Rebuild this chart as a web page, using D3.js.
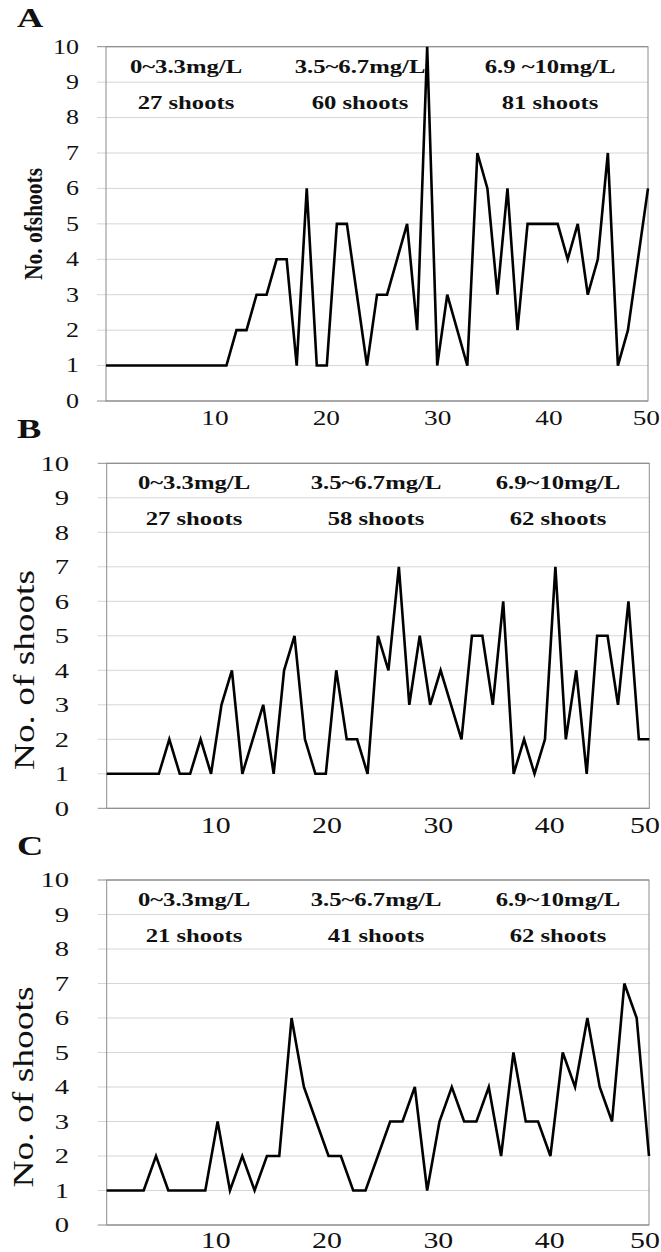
<!DOCTYPE html>
<html><head><meta charset="utf-8">
<script src="https://cdn.jsdelivr.net/npm/d3@7"></script>
<style>body{margin:0;background:#fff}svg{display:block}</style>
</head><body>
<script>
// ---------- data ----------
const yTicks = [0,1,2,3,4,5,6,7,8,9,10];
const xTickLabels = [10,20,30,40,50];
const panelLetters = ["A","B","C"];
const yAxisTitles = ["No. ofshoots","No. of shoots","No. of shoots"];
const rangeLabelsA = ["0~3.3mg/L","3.5~6.7mg/L","6.9 ~10mg/L"];
const rangeLabelsB = ["0~3.3mg/L","3.5~6.7mg/L","6.9~10mg/L"];
const rangeLabelsC = ["0~3.3mg/L","3.5~6.7mg/L","6.9~10mg/L"];
const shootsA = [27,60,81];
const shootsB = [27,58,62];
const shootsC = [21,41,62];
const seriesA = [1,1,1,1,1,1,1,1,1,1,1,1,1,2,2,3,3,4,4,1,6,1,1,5,5,3,1,3,3,4,5,2,10,1,3,2,1,7,6,3,6,2,5,5,5,5,4,5,3,4,7,1,2,4,6];
const seriesB = [1,1,1,1,1,1,2,1,1,2,1,3,4,1,2,3,1,4,5,2,1,1,4,2,2,1,5,4,7,3,5,3,4,3,2,5,5,3,6,1,2,1,2,7,2,4,1,5,5,3,6,2,2];
const seriesC = [1,1,1,1,2,1,1,1,1,3,1,2,1,2,2,6,4,3,2,2,1,1,2,3,3,4,1,3,4,3,3,4,2,5,3,3,2,5,4,6,4,3,7,6,2];

// ---------- layout ----------
const W = 661, H = 1252, SX = 1.3;
const FONT = "'Liberation Serif','Times New Roman',serif";
const layout = [
  {top:46.7, bottom:401, left:106, right:648, headerX:[186,360,550], letterY:27,
   tickRight:79, tickFont:20, titleX:42, titleY:224, titleLen:112, titleFont:26, titleBold:true, xlabY:425},
  {top:463.3, bottom:808.3, left:106.7, right:649.3, headerX:[194,376,558], letterY:438,
   tickRight:69, tickFont:22, titleX:34, titleY:670, titleLen:200, titleFont:30, titleBold:false, xlabY:833},
  {top:880, bottom:1225, left:106.7, right:649, headerX:[194,376,558], letterY:855,
   tickRight:69, tickFont:22, titleX:33, titleY:1087, titleLen:201, titleFont:30, titleBold:false, xlabY:1248}
];
const panels = [
  {series:seriesA, ranges:rangeLabelsA, shoots:shootsA},
  {series:seriesB, ranges:rangeLabelsB, shoots:shootsB},
  {series:seriesC, ranges:rangeLabelsC, shoots:shootsC}
];

const svg = d3.select("body").append("svg").attr("width", W).attr("height", H)
  .style("font-family", FONT);
svg.append("rect").attr("width", W).attr("height", H).attr("fill", "#fff");

function stretchedText(g, x, y, txt, opts) {
  const t = g.append("text")
    .attr("transform", `translate(${x},${y}) scale(${SX},1)`)
    .attr("text-anchor", opts.anchor || "middle")
    .attr("font-size", opts.size)
    .attr("font-weight", opts.bold ? "bold" : "normal")
    .attr("fill", "#111")
    .text(txt);
  if (opts.dominant) t.attr("dominant-baseline", opts.dominant);
  return t;
}

panels.forEach((p, k) => {
  const L = layout[k];
  const g = svg.append("g");
  const x = d3.scaleLinear().domain([0, p.series.length - 1]).range([L.left, L.right]);
  const y = d3.scaleLinear().domain([0, 10]).range([L.bottom, L.top]);
  const xl = d3.scaleLinear().domain([10, 40]).range([L.left + 109, L.left + 443]);

  // gridlines with outward ticks
  g.append("g").selectAll("line").data(yTicks).join("line")
    .attr("x1", L.left - 9).attr("x2", L.right)
    .attr("y1", d => y(d)).attr("y2", d => y(d))
    .attr("stroke", d => (d === 0 || d === 10) ? "#8c8c8c" : "#d6d6d6")
    .attr("stroke-width", 1);
  // border
  g.append("rect").attr("x", L.left).attr("y", L.top)
    .attr("width", L.right - L.left).attr("height", L.bottom - L.top)
    .attr("fill", "none").attr("stroke", "#8c8c8c").attr("stroke-width", 1);

  // y tick labels
  yTicks.forEach(v => {
    stretchedText(g, L.tickRight, y(v), v, {anchor:"end", size:L.tickFont, dominant:"central"});
  });

  // x tick labels
  xTickLabels.forEach(v => {
    const t = stretchedText(g, xl(v), L.xlabY, v, {size:L.tickFont + 1});
    const w = t.node().getComputedTextLength() * SX;
    let cx = xl(v);
    if (cx + w / 2 > W - 1) cx = W - 1 - w / 2;
    t.attr("transform", `translate(${cx},${L.xlabY}) scale(${SX},1)`);
  });

  // y axis title
  g.append("text")
    .attr("transform", `translate(${L.titleX},${L.titleY}) rotate(-90)`)
    .attr("text-anchor", "middle")
    .attr("font-size", L.titleFont)
    .attr("font-weight", L.titleBold ? "bold" : "normal")
    .attr("textLength", L.titleLen).attr("lengthAdjust", "spacingAndGlyphs")
    .attr("fill", "#111")
    .text(yAxisTitles[k]);

  // panel letter
  stretchedText(g, 17, L.letterY, panelLetters[k], {anchor:"start", size:28, bold:true});

  // header texts
  p.ranges.forEach((r, i) => {
    stretchedText(g, L.headerX[i], L.top + 26, r, {size:19, bold:true});
    stretchedText(g, L.headerX[i], L.top + 62, p.shoots[i] + " shoots", {size:19, bold:true});
  });

  // line
  const line = d3.line().x((d, i) => x(i)).y(d => y(d));
  g.append("path").datum(p.series)
    .attr("d", line).attr("fill", "none")
    .attr("stroke", "#000").attr("stroke-width", 2.6)
    .attr("stroke-linejoin", "miter");
});
</script>
</body></html>
